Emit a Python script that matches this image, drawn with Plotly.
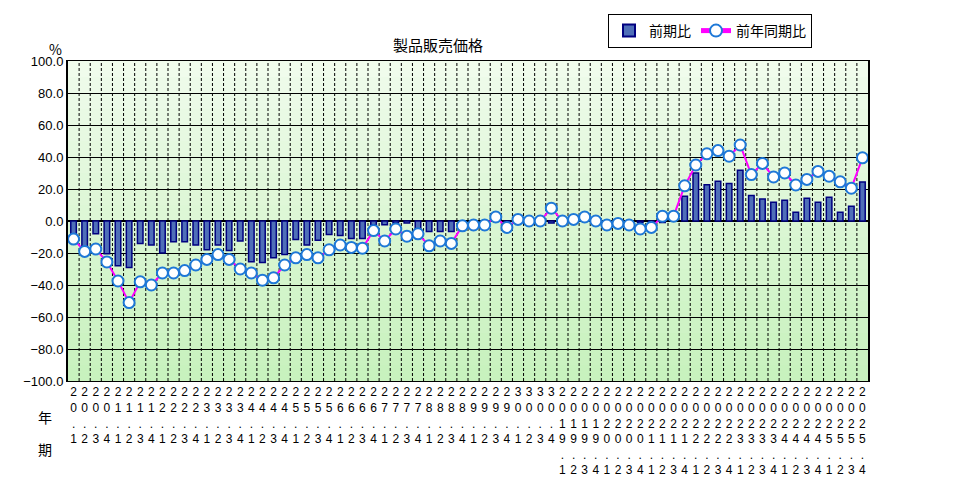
import plotly.graph_objects as go

years = [str(y) for y in range(20, 31)] + [str(y) for y in range(2019, 2026)]
quarters = ["1", "2", "3", "4"]
qoq = [-9.5, -18, -8, -20.5, -28, -29, -14, -15, -20, -13, -13, -15, -18, -15, -18.5, -12.5,
       -25.5, -26, -23, -21, -11.5, -15, -12, -8.5, -9, -11, -11, -2.3, -2.3, -1.2, -1.2, -6.5,
       -6.5, -6.5, -6.5, -0.5, 0, 0, 0, -1, 0, 0, 0, -1.3, 0, 0, 0, 0, 0, 0,
       0, -1, -1, -1, 0, 15.4, 30, 22.7, 24.8, 23.5, 31.7, 16, 13.8, 11.7, 13, 5.4,
       14.2, 11.7, 14.8, 5.4, 9.2, 24.4]
yoy = [-11.3, -19, -17.5, -25.6, -37.5, -51, -38, -40, -32.5, -32.5, -31, -27.5, -24, -21, -24, -30,
       -32.5, -37, -35.5, -27.5, -23, -21, -23, -18, -15, -16.5, -17, -6, -12.5, -5, -9.5, -8,
       -15.5, -12.5, -14, -3, -2.5, -2.5, 2.5, -4, 1, 0, 0, 8, 0, 1, 2.5, 0, -2.5, -1.5,
       -2.5, -5, -4, 3, 3, 22, 35, 42, 44, 40.5, 47.5, 29, 36, 27.5, 30, 22.5,
       26, 31, 28, 24.5, 20.5, 39.5]

labels = []
for y in years:
    for q in quarters:
        labels.append("<br>".join(list(y + "." + q)))
x = list(range(len(labels)))

fig = go.Figure()
n = 20
for i in range(n):
    t = i / (n - 1)
    r = int(240 - t * (240 - 200))
    g = int(252 - t * (252 - 242))
    b = int(236 - t * (236 - 190))
    fig.add_shape(type="rect", xref="paper", yref="y", x0=0, x1=1,
                  y0=100 - 200 * (i + 1) / n, y1=100 - 200 * i / n,
                  fillcolor=f"rgb({r},{g},{b})", line_width=0, layer="below")
for i in range(len(x) - 1):
    fig.add_shape(type="line", x0=i + 0.5, x1=i + 0.5, yref="paper", y0=0, y1=1,
                  line=dict(color="black", width=1, dash="3px,2px"), layer="below")

fig.add_trace(go.Bar(x=x, y=qoq, name="前期比", width=0.5,
                     marker=dict(color="#4f6fb8", line=dict(color="#000080", width=1.5))))
fig.add_trace(go.Scatter(x=x, y=yoy, name="前年同期比", mode="lines+markers",
                         line=dict(color="#ff00ff", width=2),
                         marker=dict(symbol="circle", size=11, color="white",
                                     line=dict(color="#1e78d7", width=2))))

fig.update_layout(
    width=974, height=502,
    margin=dict(l=60, r=114, t=53, b=129, autoexpand=False),
    paper_bgcolor="white", plot_bgcolor="rgba(0,0,0,0)",
    font=dict(family="Noto Sans CJK JP", size=13, color="black"),
    title=dict(text="製品販売価格", x=430 / 974, xanchor="center", y=1 - 38 / 502,
               yanchor="middle", font=dict(size=15)),
    showlegend=True,
    legend=dict(orientation="h", x=540 / 800, y=1 + 13 / 320, xanchor="left", yanchor="bottom",
                bordercolor="black", borderwidth=1, bgcolor="white", font=dict(size=14),
                itemsizing="constant"),
)
fig.update_xaxes(range=[-0.5, len(x) - 0.5], tickvals=x, ticktext=labels, tickangle=0,
                 showgrid=False, zeroline=False, showline=True, linecolor="black",
                 linewidth=1, mirror=True, ticks="", tickfont=dict(size=12, family="Liberation Sans"))
fig.update_yaxes(range=[-100, 100], dtick=20, tickformat=".1f", showgrid=True,
                 gridcolor="black", gridwidth=1, zeroline=True, zerolinecolor="black",
                 showline=True, linecolor="black", linewidth=2, mirror=True,
                 tickfont=dict(size=13, family="Liberation Sans"))
fig.add_annotation(text="%", xref="paper", yref="paper", x=-0.005, y=1.0, yanchor="bottom",
                   xanchor="right", showarrow=False, font=dict(size=14))
fig.add_annotation(text="年", xref="paper", yref="paper", x=-0.04, y=-0.15,
                   showarrow=False, font=dict(size=14))
fig.add_annotation(text="期", xref="paper", yref="paper", x=-0.04, y=-0.25,
                   showarrow=False, font=dict(size=14))
fig.write_html("out.html")
